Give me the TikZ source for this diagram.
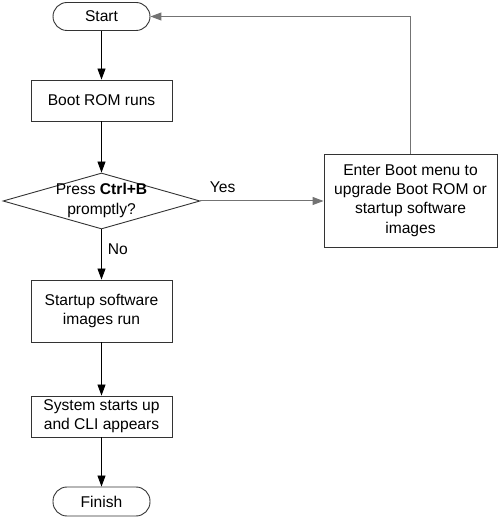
\documentclass[tikz,border=0pt]{standalone}
\usepackage{fontspec}
\setmainfont{Liberation Sans}
\usetikzlibrary{shapes.geometric,arrows.meta}
\begin{document}
\begin{tikzpicture}[x=1pt,y=1pt,
  every node/.style={font=\fontsize{15.6}{19.3}\selectfont},
  box/.style={draw=black!80,line width=0.9pt,align=center,inner sep=0pt},
  term/.style={box,rounded corners=14pt,minimum width=97pt,minimum height=28pt},
  proc/.style={box,minimum width=141pt},
  flow/.style={draw=black,line width=0.9pt,-{Triangle[length=11pt,width=8pt]}},
  grayflow/.style={draw=black!55,line width=1pt,-{Triangle[length=11pt,width=8pt]}},
  lbl/.style={inner sep=0pt}]
\useasboundingbox (0,0) rectangle (501,519);
\node[term] (start) at (101.5,502.5) {Start};
\node[proc,minimum height=41pt] (boot) at (101.5,418.5) {Boot ROM runs};
\node[draw=black!80,line width=0.9pt,diamond,aspect=3.52,minimum width=197pt,minimum height=56pt,inner sep=0pt] (dec) at (101.5,318) {};
\node[align=center,inner sep=0pt] (dectext) at (101.5,318.5) {Press \textbf{Ctrl+B}\\promptly?};
\node[box,minimum width=173pt,minimum height=93pt] (enter) at (410.5,318.5) {Enter Boot menu to\\upgrade Boot ROM or\\startup software\\images};
\node[proc,minimum height=62pt] (sw) at (101.5,208) {Startup software\\images run};
\node[proc,minimum height=41pt] (sys) at (101.5,102.5) {System starts up\\and CLI appears};
\node[term,minimum height=29pt] (fin) at (101.5,17.5) {Finish};
\draw[flow] (start) -- (boot);
\draw[flow] (boot) -- (dec);
\draw[grayflow] (dec.east) -- (dec.east -| enter.west) node[lbl,pos=0.18,above=8pt] (yes) {Yes};
\draw[flow] (dec.south) -- (sw.north) node[lbl,pos=0.4,right=6pt] (no) {No};
\draw[flow] (sw) -- (sys);
\draw[flow] (sys) -- (fin);
\draw[grayflow] (enter.north) |- (start.east);
\end{tikzpicture}
\end{document}
